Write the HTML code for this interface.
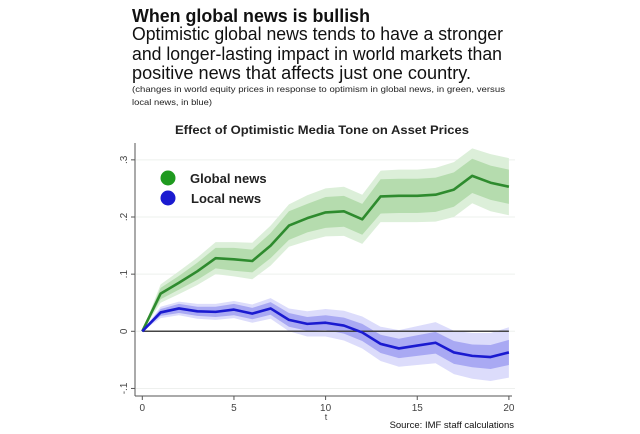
<!DOCTYPE html>
<html><head><meta charset="utf-8"><style>
html,body{margin:0;padding:0;background:#fff;}
svg{display:block;font-family:"Liberation Sans",sans-serif;}
</style></head><body>
<svg id="chart" width="640" height="434" viewBox="0 0 640 434" xmlns="http://www.w3.org/2000/svg">
<text x="132" y="22" font-size="18" font-weight="bold" fill="#111" textLength="238" lengthAdjust="spacingAndGlyphs">When global news is bullish</text>
<text x="132" y="40" font-size="18.5" fill="#111" textLength="371" lengthAdjust="spacingAndGlyphs">Optimistic global news tends to have a stronger</text>
<text x="132" y="60" font-size="18.5" fill="#111" textLength="370" lengthAdjust="spacingAndGlyphs">and longer-lasting impact in world markets than</text>
<text x="132" y="79" font-size="18.5" fill="#111" textLength="339" lengthAdjust="spacingAndGlyphs">positive news that affects just one country.</text>
<text x="132" y="92" font-size="8.5" fill="#222" textLength="373" lengthAdjust="spacingAndGlyphs">(changes in world equity prices in response to optimism in global news, in green, versus</text>
<text x="132" y="105" font-size="8.5" fill="#222" textLength="80" lengthAdjust="spacingAndGlyphs">local news, in blue)</text>
<text x="322" y="134" font-size="12" font-weight="bold" fill="#222" text-anchor="middle" textLength="294" lengthAdjust="spacingAndGlyphs">Effect of Optimistic Media Tone on Asset Prices</text>
<g id="plot"></g>
<text x="514" y="428" font-size="9.5" fill="#111" text-anchor="end">Source: IMF staff calculations</text>
</svg>
<script>
const periods=[0,1,2,3,4,5,6,7,8,9,10,11,12,13,14,15,16,17,18,19,20];
const globalNews=[0,.066,.085,.105,.128,.126,.123,.15,.185,.198,.208,.21,.196,.236,.237,.237,.239,.248,.272,.26,.253];
const localNews=[0,.033,.04,.035,.034,.038,.031,.04,.02,.013,.015,.01,-.002,-.022,-.03,-.025,-.02,-.037,-.043,-.045,-.037];
const globalInner=[0,.01,.012,.015,.018,.02,.02,.022,.025,.025,.027,.027,.027,.03,.03,.03,.03,.03,.03,.03,.03];
const globalOuter=[0,.016,.02,.024,.028,.03,.032,.035,.037,.04,.042,.043,.043,.045,.046,.046,.047,.048,.048,.05,.05];
const localInner=[0,.006,.008,.008,.009,.01,.01,.011,.012,.012,.013,.014,.015,.016,.017,.018,.019,.02,.02,.021,.022];
const localOuter=[0,.01,.012,.013,.014,.015,.016,.018,.02,.022,.024,.026,.028,.03,.032,.034,.036,.038,.04,.042,.044];
const yTicks=[-.1,0,.1,.2,.3];
const yTickLabels=["-.1","0",".1",".2",".3"];
const xTicks=[0,5,10,15,20];
const NS="http://www.w3.org/2000/svg";
const g=document.getElementById('plot');
const X=t=>142.3+t*18.33;
const Y=v=>331.3-v*571.5;
function mk(tag,at){const e=document.createElementNS(NS,tag);for(const k in at)e.setAttribute(k,at[k]);g.appendChild(e);return e;}
yTicks.forEach((v,i)=>{
 const l=mk('line',{x1:136,x2:515,y1:Y(v),y2:Y(v),stroke:'#eef0ee','stroke-width':1});
 
 
 const tk=mk('line',{x1:131,x2:135,y1:Y(v),y2:Y(v),stroke:'#555'});
 
 
 const t=mk('text',{x:0,y:0,'font-size':10,fill:'#444','text-anchor':'middle',transform:`translate(127 ${Y(v)}) rotate(-90)`});
 t.textContent=yTickLabels[i];
 
 
});
function band(vals,w,fill,name){
 let d=periods.map((t,i)=>(i?'L':'M')+X(t)+' '+Y(vals[i]+w[i])).join(' ');
 d+=' '+periods.slice().reverse().map(t=>'L'+X(t)+' '+Y(vals[t]-w[t])).join(' ')+'Z';
 const p=mk('path',{d,fill});
 
 
}
function line(vals,stroke,name){
 const p=mk('path',{d:periods.map((t,i)=>(i?'L':'M')+X(t)+' '+Y(vals[i])).join(' '),fill:'none',stroke,'stroke-width':2.6,'stroke-linejoin':'round'});
 
 
}
band(globalNews,globalOuter,'#dcefd9','global-outer-band');
band(globalNews,globalInner,'#b5dcae','global-inner-band');
band(localNews,localOuter,'#dcdcfb','local-outer-band');
band(localNews,localInner,'#a9a9f3','local-inner-band');
const z=mk('line',{x1:X(0),x2:X(20),y1:Y(0),y2:Y(0),stroke:'#444','stroke-width':1.5});


line(globalNews,'#2e8b2e','global-news-line');
line(localNews,'#1a1ad0','local-news-line');
const ya=mk('line',{x1:135,x2:135,y1:143,y2:396,stroke:'#555'});


const xa=mk('line',{x1:135,x2:512,y1:396,y2:396,stroke:'#555'});


xTicks.forEach(t=>{
 const tk=mk('line',{x1:X(t),x2:X(t),y1:396,y2:400,stroke:'#555'});
 
 
 const tx=mk('text',{x:X(t),y:411,'font-size':10,fill:'#444','text-anchor':'middle'});
 tx.textContent=t;
 
 
});
const xt=mk('text',{x:326,y:420,'font-size':9,fill:'#444','text-anchor':'middle'});
xt.textContent='t';


const c1=mk('circle',{cx:168,cy:178,r:7.5,fill:'#1f9a1f'});


const l1=mk('text',{x:190,y:183,'font-size':13,'font-weight':'bold',fill:'#222'});
l1.textContent='Global news';


const c2=mk('circle',{cx:168,cy:198,r:7.5,fill:'#1a1ad0'});


const l2=mk('text',{x:191,y:203,'font-size':13,'font-weight':'bold',fill:'#222'});
l2.textContent='Local news';


</script>
</body></html>
